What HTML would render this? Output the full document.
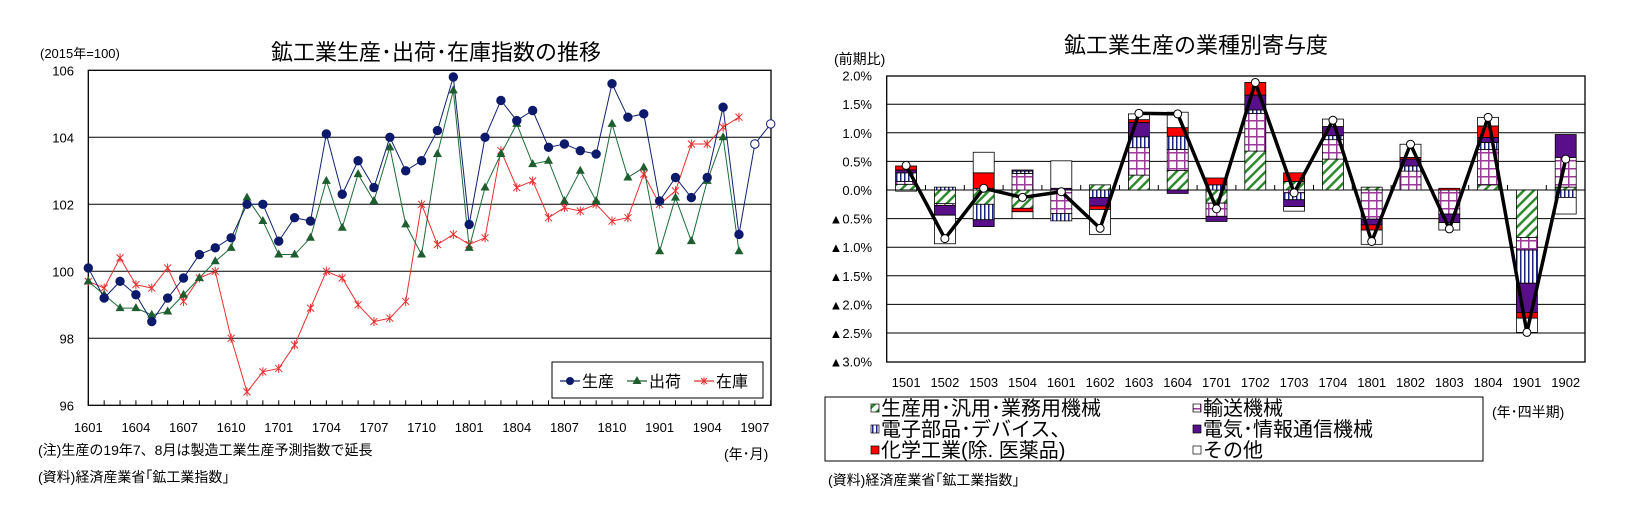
<!DOCTYPE html>
<html><head><meta charset="utf-8">
<style>
html,body{margin:0;padding:0;background:#fff;}
svg{display:block;font-family:"Liberation Sans","Noto Sans CJK JP",sans-serif;}
</style></head>
<body>
<svg id="chart" width="1629" height="514" viewBox="0 0 1629 514" xmlns="http://www.w3.org/2000/svg">
<defs>
<pattern id="pHatch" width="7" height="7" patternUnits="userSpaceOnUse" patternTransform="rotate(45)"><rect width="7" height="7" fill="#fff"/><rect width="2.5" height="7" fill="#2e8b2e"/></pattern>
<pattern id="pGrid" width="8" height="8" patternUnits="userSpaceOnUse"><rect width="8" height="8" fill="#fff"/><rect x="0" y="0" width="1.5" height="8" fill="#9a3a9a"/><rect x="0" y="0" width="8" height="1.5" fill="#9a3a9a"/></pattern>
<pattern id="pVert" width="4" height="4" patternUnits="userSpaceOnUse"><rect width="4" height="4" fill="#fff"/><rect width="1.5" height="4" fill="#1a237e"/></pattern>
</defs>
<text x="436" y="60" font-size="22" text-anchor="middle">鉱工業生産･出荷･在庫指数の推移</text>
<text x="40" y="58" font-size="13">(2015年=100)</text>
<text x="38" y="455" font-size="14">(注)生産の19年7、8月は製造工業生産予測指数で延長</text>
<text x="38" y="482" font-size="14">(資料)経済産業省｢鉱工業指数｣</text>
<text x="724" y="459" font-size="14">(年･月)</text>
<g id="left"></g>
<text x="1196" y="53" font-size="22" text-anchor="middle">鉱工業生産の業種別寄与度</text>
<text x="834" y="64" font-size="14">(前期比)</text>
<text x="1492" y="417" font-size="14">(年･四半期)</text>
<text x="828" y="485" font-size="14">(資料)経済産業省｢鉱工業指数｣</text>
<g id="right"></g>
</svg>
<script>
// ---- Left chart data ----
const months = ["1601","1602","1603","1604","1605","1606","1607","1608","1609","1610","1611","1612","1701","1702","1703","1704","1705","1706","1707","1708","1709","1710","1711","1712","1801","1802","1803","1804","1805","1806","1807","1808","1809","1810","1811","1812","1901","1902","1903","1904","1905","1906","1907","1908"];
const production = [100.1,99.2,99.7,99.3,98.5,99.2,99.8,100.5,100.7,101.0,102.0,102.0,100.9,101.6,101.5,104.1,102.3,103.3,102.5,104.0,103.0,103.3,104.2,105.8,101.4,104.0,105.1,104.5,104.8,103.7,103.8,103.6,103.5,105.6,104.6,104.7,102.1,102.8,102.2,102.8,104.9,101.1,103.8,104.4];
const shipments = [99.7,99.3,98.9,98.9,98.7,98.8,99.3,99.8,100.3,100.7,102.2,101.5,100.5,100.5,101.0,102.7,101.3,102.9,102.1,103.7,101.4,100.5,103.5,105.4,100.7,102.5,103.5,104.4,103.2,103.3,102.1,103.0,102.1,104.4,102.8,103.1,100.6,102.2,100.9,102.7,104.0,100.6];
const inventory = [99.7,99.5,100.4,99.6,99.5,100.1,99.1,99.8,100.0,98.0,96.4,97.0,97.1,97.8,98.9,100.0,99.8,99.0,98.5,98.6,99.1,102.0,100.8,101.1,100.8,101.0,103.6,102.5,102.7,101.6,101.9,101.8,102.0,101.5,101.6,102.9,102.0,102.4,103.8,103.8,104.3,104.6];
const leftTicks = [96,98,100,102,104,106];
const forecastStart = 42;

// ---- Right chart data ----
const quarters = ["1501","1502","1503","1504","1601","1602","1603","1604","1701","1702","1703","1704","1801","1802","1803","1804","1901","1902"];
const machinery = [0.10,-0.24,-0.25,-0.32,0,0.09,0.26,0.34,-0.23,0.68,0.15,0.54,0.05,0,0,0.09,-0.83,0.05];
const transport = [0.05,-0.03,0.03,0.29,-0.41,0,0.48,0.37,-0.23,0.66,-0.05,0.34,-0.51,0.33,-0.42,0.62,-0.22,0.52];
const electronic = [0.15,0.05,-0.27,0.04,-0.13,-0.13,0.19,0.23,0.09,0.06,-0.12,0.07,0,0.09,0,0.12,-0.58,-0.13];
const electric = [0.05,-0.17,-0.12,0.02,0.03,-0.15,0.25,-0.06,-0.09,0.26,-0.12,0.16,-0.10,0.12,-0.15,0.09,-0.51,0.40];
const chemical = [0.07,0,0.27,-0.06,0,-0.06,0.05,0.15,0.12,0.22,0.15,0,-0.09,0.03,0.03,0.20,-0.10,0];
const others = [-0.02,-0.50,0.36,-0.12,0.48,-0.44,0.10,0.27,0,0,-0.08,0.13,-0.25,0.23,-0.13,0.15,-0.25,-0.29];
const totals = [0.43,-0.85,0.03,-0.13,-0.03,-0.67,1.34,1.33,-0.33,1.88,-0.05,1.22,-0.90,0.80,-0.68,1.27,-2.49,0.54];
const rightTicks = [2.0,1.5,1.0,0.5,0,-0.5,-1.0,-1.5,-2.0,-2.5,-3.0];

const NS = "http://www.w3.org/2000/svg";
function mk(parent, tag, attrs, txt){
  const e = document.createElementNS(NS, tag);
  for (const k in attrs) e.setAttribute(k, attrs[k]);
  if (txt !== undefined) e.textContent = txt;
  parent.appendChild(e);
  return e;
}

// ===== LEFT =====
const L = document.getElementById('left');
const lx0 = 88.3, lstep = 15.87, lTop = 70.3, lBot = 405.3, lRight = 771;
const xL = i => lx0 + i * lstep;
const yL = v => lBot - (v - 96) / 10 * (lBot - lTop);
leftTicks.forEach(t => {
  if (t > 96 && t < 106) {
    const g = mk(L, 'line', {x1: lx0, x2: lRight, y1: yL(t), y2: yL(t), stroke: '#000', 'stroke-width': 1});
    
    
  }
  const tl = mk(L, 'text', {x: 74, y: yL(t) + 5, 'font-size': 13, 'text-anchor': 'end'}, String(t));
  
  
});
const lb = mk(L, 'rect', {x: lx0, y: lTop, width: lRight - lx0, height: lBot - lTop, fill: 'none', stroke: '#000', 'stroke-width': 1.3});


months.forEach((m, i) => {
  const tk = mk(L, 'line', {x1: xL(i), x2: xL(i), y1: lBot, y2: lBot - 5, stroke: '#000'});
  
  
  if (i % 3 === 0) {
    const t = mk(L, 'text', {x: xL(i), y: 432, 'font-size': 13, 'text-anchor': 'middle'}, m);
    
    
  }
});
function polyline(arr, color, name){
  const p = mk(L, 'polyline', {points: arr.map((v, i) => xL(i) + ',' + yL(v)).join(' '), fill: 'none', stroke: color, 'stroke-width': 1});
  
  
}
polyline(inventory, '#e83030', 'inventory-line');
polyline(shipments, '#1e6b3a', 'shipments-line');
polyline(production, '#102070', 'production-line');
inventory.forEach((v, i) => {
  const x = xL(i), y = yL(v), s = 3.5;
  const g = mk(L, 'path', {d: `M${x-s},${y-s}L${x+s},${y+s}M${x-s},${y+s}L${x+s},${y-s}M${x},${y-s-1}L${x},${y+s+1}`, stroke: '#e83030', 'stroke-width': 1});
  
  
});
shipments.forEach((v, i) => {
  const x = xL(i), y = yL(v);
  const g = mk(L, 'path', {d: `M${x},${y-5}L${x+4.5},${y+3}L${x-4.5},${y+3}Z`, fill: '#1e5e2e'});
  
  
});
production.forEach((v, i) => {
  const c = mk(L, 'circle', {cx: xL(i), cy: yL(v), r: 4.2, fill: i >= forecastStart ? '#fff' : '#0d1a6b', stroke: '#0d1a6b', 'stroke-width': 1});
  
  
});
// legend
const lg = mk(L, 'g', {});


mk(lg, 'rect', {x: 552, y: 362, width: 211, height: 36, fill: '#fff', stroke: '#000', 'stroke-width': 1});
const legItems = [['生産', '#0d1a6b', 'c'], ['出荷', '#1e5e2e', 't'], ['在庫', '#e83030', 'x']];
legItems.forEach((it, k) => {
  const bx = 560 + k * 67, by = 381;
  const e = mk(lg, 'g', {});
  
  
  mk(e, 'line', {x1: bx, x2: bx + 20, y1: by, y2: by, stroke: it[1], 'stroke-width': 1.2});
  if (it[2] === 'c') mk(e, 'circle', {cx: bx + 10, cy: by, r: 4, fill: it[1]});
  if (it[2] === 't') mk(e, 'path', {d: `M${bx+10},${by-5}L${bx+14.5},${by+3}L${bx+5.5},${by+3}Z`, fill: it[1]});
  if (it[2] === 'x') mk(e, 'path', {d: `M${bx+7},${by-3}L${bx+13},${by+3}M${bx+7},${by+3}L${bx+13},${by-3}M${bx+10},${by-4}L${bx+10},${by+4}`, stroke: it[1]});
  mk(e, 'text', {x: bx + 22, y: by + 6, 'font-size': 16}, it[0]);
});

// ===== RIGHT =====
const R = document.getElementById('right');
const rx0 = 886.7, rstep = 38.8, rTop = 76, rBot = 362, rRight = 1585, barW = 21;
const yR = v => 190 - v * 57.2;
const xR = c => rx0 + rstep * (c + 0.5);
rightTicks.forEach(t => {
  if (t < 2 && t > -3) {
    const g = mk(R, 'line', {x1: rx0, x2: rRight, y1: yR(t), y2: yR(t), stroke: '#000', 'stroke-width': 1});
    
    
  }
  const lbl = (t < 0 ? '▲' : '') + Math.abs(t).toFixed(1) + '%';
  const tl = mk(R, 'text', {x: 872, y: yR(t) + 5, 'font-size': 13, 'text-anchor': 'end'}, lbl);
  
  
});
const series = [
  [machinery, 'url(#pHatch)', 'machinery-bar'],
  [transport, 'url(#pGrid)', 'transport-bar'],
  [electronic, 'url(#pVert)', 'electronic-bar'],
  [electric, '#5a0f8a', 'electric-bar'],
  [chemical, '#ff0000', 'chemical-bar'],
  [others, '#ffffff', 'others-bar']
];
quarters.forEach((q, c) => {
  let pos = 0, neg = 0;
  series.forEach(s => {
    const v = s[0][c];
    if (!v) return;
    let y0, y1;
    if (v > 0) { y0 = pos; y1 = pos + v; pos = y1; } else { y0 = neg; y1 = neg + v; neg = y1; }
    const top = Math.min(yR(y0), yR(y1)), h = Math.abs(yR(y0) - yR(y1));
    const r = mk(R, 'rect', {x: xR(c) - barW / 2, y: top, width: barW, height: h, fill: s[1], stroke: '#000', 'stroke-width': 0.8});
    
    
  });
  const tk = mk(R, 'line', {x1: rx0 + rstep * c, x2: rx0 + rstep * c, y1: 190, y2: 185, stroke: '#000'});
  
  
  const t = mk(R, 'text', {x: xR(c), y: 387, 'font-size': 13, 'text-anchor': 'middle'}, q);
  
  
});
const rb = mk(R, 'rect', {x: rx0, y: rTop, width: rRight - rx0, height: rBot - rTop, fill: 'none', stroke: '#000', 'stroke-width': 1.3});


const tline = mk(R, 'polyline', {points: totals.map((v, c) => xR(c) + ',' + yR(v)).join(' '), fill: 'none', stroke: '#000', 'stroke-width': 3.5, 'stroke-linejoin': 'round'});


totals.forEach((v, c) => {
  const p = mk(R, 'circle', {cx: xR(c), cy: yR(v), r: 4, fill: '#fff', stroke: '#000', 'stroke-width': 1});
  
  
});
// right legend
const rg = mk(R, 'g', {});


mk(rg, 'rect', {x: 825, y: 397, width: 658, height: 64, fill: '#fff', stroke: '#000', 'stroke-width': 1});
const rl = [
  ['生産用･汎用･業務用機械', 'url(#pHatch)', 871, 408],
  ['輸送機械', 'url(#pGrid)', 1193, 408],
  ['電子部品･デバイス、', 'url(#pVert)', 871, 429],
  ['電気･情報通信機械', '#5a0f8a', 1193, 429],
  ['化学工業(除. 医薬品)', '#ff0000', 871, 450],
  ['その他', '#ffffff', 1193, 450]
];
rl.forEach(it => {
  const e = mk(rg, 'g', {});
  
  
  mk(e, 'rect', {x: it[2], y: it[3] - 4, width: 8, height: 8, fill: it[1], stroke: '#000', 'stroke-width': 0.7});
  mk(e, 'text', {x: it[2] + 10, y: it[3] + 7, 'font-size': 20}, it[0]);
});
</script>
</body></html>
